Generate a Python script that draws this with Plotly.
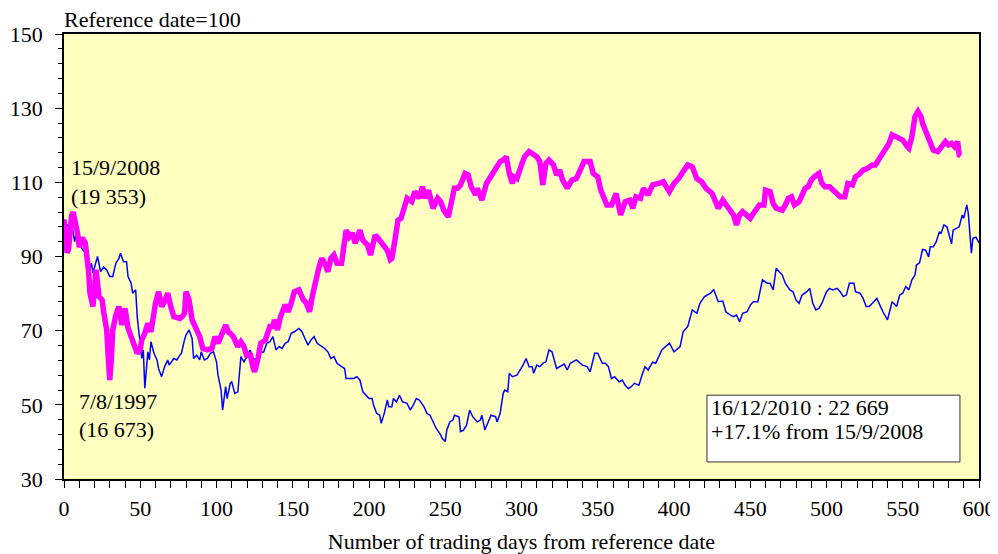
import plotly.graph_objects as go

# Magenta series (from 15/9/2008)
days_2008 = [0, 1, 2, 3, 4, 5, 6, 7, 8, 9, 10, 12, 14, 16, 17, 19, 21, 23, 25, 26, 28, 29, 30, 31, 32, 34, 36, 38, 40,
             42, 44, 46, 48, 50, 51, 53, 55, 57, 59, 60, 62, 64, 66, 67, 68, 70, 72, 74, 76, 78, 79, 80, 82, 84, 86, 87,
             89, 91, 94, 97, 99, 101, 104, 106, 108, 109, 111, 114, 116, 118, 120, 122, 124, 125, 127, 129, 132, 134,
             135, 137, 138, 140, 142, 145, 147, 149, 151, 154, 156, 157, 159, 161, 163, 165, 167, 169, 171, 173, 175,
             177, 179, 182, 183, 184, 185, 187, 189, 191, 194, 196, 199, 201, 204, 206, 209, 212, 214, 215, 217, 219,
             221, 223, 225, 228, 230, 233, 235, 237, 239, 242, 245, 247, 249, 252, 254, 256, 258, 260, 263, 265, 267,
             270, 271, 274, 277, 279, 281, 283, 286, 288, 290, 292, 294, 295, 297, 300, 302, 305, 307, 310, 312, 313,
             314, 316, 318, 321, 323, 325, 327, 330, 333, 336, 338, 341, 345, 347, 350, 352, 356, 359, 362, 365, 368,
             371, 373, 375, 378, 380, 383, 386, 390, 393, 395, 397, 400, 403, 406, 409, 412, 415, 418, 421, 425, 427,
             429, 432, 434, 436, 439, 441, 443, 445, 448, 450, 452, 454, 456, 459, 460, 463, 465, 467, 471, 473, 475,
             477, 479, 482, 484, 486, 488, 490, 492, 495, 497, 499, 502, 506, 509, 512, 514, 517, 519, 521, 524, 527,
             530, 532, 534, 536, 538, 541, 543, 545, 547, 550, 553, 554, 556, 558, 560, 562, 563, 566, 568, 570, 573,
             575, 578, 580, 582, 584, 586, 587, 588]
vals_2008 = [100, 96, 91, 92, 99, 101, 102, 99, 98, 96, 92.5, 95, 93.6, 86.4, 80.2, 76.5, 86.4, 79.2, 78.3, 75.1, 70.2,
             63, 56.7, 62, 70.2, 74.2, 76.5, 71.5, 76, 70.7, 68.4, 65.7, 63.9, 65, 67.5, 69.3, 72, 69.7, 75, 77.4, 80.5,
             76.5, 78, 79.6, 80.1, 76.5, 73.8, 73.5, 73.3, 74, 74.7, 80.5, 78.3, 72.9, 71, 70.2, 68.4, 65.2, 64.8, 65.2,
             68.4, 66.6, 70.2, 71.5, 69.5, 69.3, 68.4, 65.7, 67, 65.7, 63, 63.9, 60, 58.9, 62.1, 66.6, 67.5, 70, 71.1,
             71.1, 72.9, 70.2, 73.8, 77, 75.1, 77.4, 80.5, 81, 79, 78.3, 77.4, 75.1, 79.6, 84.1, 86.8, 89.5, 88.2, 85.9,
             89.5, 90.4, 88.2, 88.2, 92, 94.4, 97.1, 95.3, 96.3, 93.6, 97.1, 94.4, 93.1, 90.4, 95.8, 94.9, 93.1, 91.7,
             89.2, 89.5, 94.4, 99.8, 100.3, 103.4, 105.7, 104.8, 107.5, 105.7, 108.8, 105.7, 107.9, 103, 105.7, 104.8,
             102.5, 100.7, 103.9, 108.4, 108.4, 109.3, 112.4, 112, 108.8, 106.6, 108.4, 105.2, 109.7, 111, 112.4, 113.8,
             115.6, 116, 116.9, 112.4, 109.7, 111.5, 111, 114.7, 116.9, 118.3, 117.8, 116.9, 115.6, 112, 109.3, 115.1,
             116, 114.7, 112, 113.3, 110.6, 108.4, 110.6, 111, 112.9, 115.6, 115.6, 112.4, 111.5, 107.9, 103.9, 103.9,
             107, 101.2, 104.8, 105.2, 103, 106.1, 105.7, 108.4, 106.6, 109.3, 109.7, 110.2, 108.8, 107.5, 109.7, 111,
             112.9, 114.7, 114.2, 111, 110.2, 108.4, 107, 104.8, 103, 105.2, 104, 102.5, 101.2, 98.5, 101.2, 102.1,
             101.2, 100.3, 101.6, 103, 103.9, 103.9, 107.9, 107.5, 104.3, 103, 102.5, 103.9, 105.7, 106.1, 103.9,
             104.8, 107, 108.4, 108.8, 110.6, 111.5, 112.4, 109.7, 108.8, 108.8, 107, 106.1, 106.1, 109.7, 109.3,
             111.5, 112, 113.3, 113.8, 114.7, 114.7, 116, 117.4, 118.5, 120.5, 122.8, 122.3, 121.9, 121.4, 119.6,
             119.2, 122.3, 127.7, 129.1, 127.7, 125.9, 122.8, 121.4, 118.7, 118.3, 119.2, 121, 120.1, 120.5, 119.6,
             121, 117.4, 117.1]

# Blue series (from 7/8/1997)
days_1997 = [0, 1, 3, 5, 7, 8, 10, 12, 14, 16, 18, 19, 21, 22, 24, 26, 28, 30, 32, 34, 36, 37, 39, 41, 42, 44, 45, 47,
             48, 50, 51, 52, 53, 55, 56, 57, 59, 61, 62, 64, 66, 68, 69, 72, 74, 76, 77, 79, 80, 82, 84, 85, 87, 89, 90,
             92, 94, 96, 98, 100, 101, 103, 104, 106, 107, 109, 110, 112, 114, 116, 118, 120, 122, 124, 126, 128, 131,
             133, 135, 137, 139, 141, 143, 145, 147, 149, 151, 154, 156, 158, 160, 162, 164, 166, 168, 171, 173, 175,
             177, 179, 182, 184, 185, 188, 190, 192, 194, 196, 197, 200, 202, 203, 205, 207, 208, 210, 212, 213, 215,
             216, 218, 220, 222, 225, 227, 229, 231, 233, 236, 238, 240, 242, 244, 247, 248, 250, 251, 253, 255, 256,
             259, 260, 262, 264, 266, 268, 271, 273, 274, 276, 278, 280, 283, 284, 286, 288, 289, 291, 292, 294, 297,
             299, 301, 303, 305, 307, 308, 310, 312, 314, 316, 318, 320, 323, 325, 328, 330, 332, 336, 340, 343, 345,
             348, 350, 353, 355, 357, 359, 361, 364, 366, 368, 370, 372, 374, 377, 379, 381, 383, 386, 388, 392, 397,
             400, 404, 406, 409, 412, 415, 417, 420, 424, 426, 429, 432, 434, 437, 439, 441, 443, 445, 448, 450, 452,
             455, 456, 458, 461, 463, 465, 467, 469, 471, 473, 476, 478, 480, 482, 484, 487, 489, 491, 493, 495, 497,
             500, 502, 504, 507, 509, 511, 513, 515, 518, 519, 522, 524, 526, 528, 531, 533, 535, 537, 540, 542, 543,
             546, 548, 550, 552, 554, 556, 558, 559, 561, 563, 565, 567, 568, 570, 572, 574, 575, 577, 579, 580, 582,
             583, 585, 587, 589, 590, 592, 593, 595, 596, 598, 600]
vals_1997 = [100, 99, 98, 99, 94, 96.3, 93.6, 92, 90.9, 85.5, 88.2, 85.5, 88.6, 90, 85.9, 87.2, 86.4, 84.6, 84.6, 88.2,
             89.5, 90.9, 88.6, 88.6, 84.6, 82.8, 80.1, 81, 73.8, 66.6, 62.5, 64.8, 54.5, 64.3, 62.1, 67, 63.9, 62.1,
             59.8, 57.6, 60.3, 62.1, 60.7, 62.5, 62.1, 63.4, 63.9, 67.5, 68.8, 70.2, 67.9, 62.5, 63.4, 62.1, 64.3, 62.1,
             62.5, 63.9, 64.3, 61.6, 58, 54, 48.6, 54.9, 51.7, 55.8, 56.2, 53.1, 53.5, 63, 61.6, 63, 64.8, 62.5, 62.1,
             63.9, 64.3, 66.6, 67, 68.4, 64.8, 65.7, 65.2, 66.6, 67, 69.3, 69.7, 70.6, 69.7, 67.9, 66.1, 67.5, 68.4,
             66.6, 66.1, 65.2, 64.3, 62.5, 63, 61.2, 60.3, 59.8, 57.1, 57.1, 57.1, 57.6, 56.7, 53.5, 53.1, 51.7, 51.7,
             49.9, 47.7, 47.2, 45, 47.7, 51.3, 49.5, 49.5, 51.7, 50.8, 52.6, 50.8, 50.4, 48.6, 49.9, 51.7, 51.3, 49.5,
             47.7, 47.2, 45.4, 43.7, 41.9, 41, 40.1, 43.2, 45.4, 45.9, 47.2, 46.8, 42.8, 43.2, 44.6, 48.6, 46.8, 45.4,
             45.9, 47.2, 43.2, 45.4, 47.2, 46.8, 45.4, 47.7, 53.1, 54, 53.5, 58.5, 57.6, 58, 59.4, 60.7, 62.5, 60.3,
             60.3, 58.5, 60.7, 60.3, 61.2, 61.6, 64.8, 64.3, 59.8, 60.3, 61, 59.4, 61.2, 62.1, 60.7, 60.3, 58.9, 63.9,
             63.9, 61.2, 61.2, 60.3, 57.1, 57.6, 56.2, 56.7, 55.3, 54.4, 54.9, 55.8, 55.3, 58, 60.3, 59.4, 61.5, 61.2,
             64.8, 66.6, 64.3, 65.7, 69.7, 71.1, 75.6, 74.7, 77.4, 79.2, 80.1, 81.1, 77.8, 78, 75.1, 74.2, 73.8, 74.2,
             72.4, 74.7, 75.1, 76.9, 77.8, 77.8, 80.1, 83.7, 82.8, 82.8, 81, 86.8, 85.9, 85, 82.8, 81, 80.5, 78.3, 77.4,
             79.6, 80.5, 81.4, 77.4, 75.6, 76, 77.4, 80.5, 81.4, 81, 81.4, 80.5, 79.2, 79.6, 82.8, 82.8, 80.5, 80.1,
             78.7, 76.5, 76.5, 77.8, 78.7, 76.9, 75.1, 72.9, 76, 77.8, 76.5, 79.6, 80.1, 81.9, 81, 83.7, 85, 87.7, 88.3,
             91.9, 91.7, 89.9, 92.6, 92.6, 94, 96.7, 96.1, 98.5, 98, 96.3, 93.4, 97.1, 97.6, 98, 101.2, 100.3, 103.9,
             101.6, 90.9, 94.9, 95.2, 93.7]

FONT = "Liberation Serif, Times New Roman, serif"
FS = 22

fig = go.Figure()
fig.add_trace(go.Scatter(x=days_1997, y=vals_1997, mode="lines",
                         line=dict(color="#0000FF", width=1.5), showlegend=False, hoverinfo="skip"))
fig.add_trace(go.Scatter(x=days_2008, y=vals_2008, mode="lines",
                         line=dict(color="#FF00FF", width=5.5), showlegend=False, hoverinfo="skip"))

# Info box
fig.add_shape(type="rect", xref="x", yref="y", x0=421.6, x1=587.5, y0=34.6, y1=52.6,
              line=dict(color="#333333", width=1), fillcolor="white", layer="above")


def note(text, x, y, xref="x", yref="y", yanchor="middle"):
    fig.add_annotation(text=text, xref=xref, yref=yref, x=x, y=y, xanchor="left", yanchor=yanchor,
                       showarrow=False, font=dict(family=FONT, size=FS, color="black"))


fig.add_annotation(text="Reference date=100", xref="paper", yref="paper", x=0.0, y=1.0,
                   xanchor="left", yanchor="bottom", xshift=-2, yshift=0, showarrow=False,
                   font=dict(family=FONT, size=FS, color="black"))
note("15/9/2008", 3, 114.0)
note("(19 353)", 3, 106.2)
note("7/8/1997", 8.5, 50.9)
note("(16 673)", 8.5, 43.4)
note("16/12/2010 : 22 669", 423, 49.4)
note("+17.1% from 15/9/2008", 423, 42.7)

# The page body adds an 8px offset; the figure is sized so the plot lands where the reference has it.
fig.update_layout(
    width=990, height=546,
    margin=dict(l=56, r=19, t=26, b=75),
    paper_bgcolor="white",
    plot_bgcolor="#FFFFC0",
    font=dict(family=FONT, size=FS, color="black"),
)
fig.update_xaxes(
    range=[0, 600], tick0=0, dtick=50, ticks="outside", ticklen=7, tickcolor="black",
    showline=True, linecolor="black", linewidth=1.5, mirror=True, showgrid=False, zeroline=False,
    tickfont=dict(family=FONT, size=FS), ticklabelstandoff=2, automargin=False,
    minor=dict(dtick=10, ticks="outside", ticklen=7, tickcolor="black", showgrid=False),
    title=dict(text="Number of trading days from reference date", font=dict(family=FONT, size=FS), standoff=14),
)
fig.update_yaxes(
    range=[30, 150], tick0=30, dtick=20, ticks="outside", ticklen=7, tickcolor="black",
    showline=True, linecolor="black", linewidth=1.5, mirror=True, showgrid=False, zeroline=False,
    tickfont=dict(family=FONT, size=FS), ticklabelstandoff=8, automargin=False,
    minor=dict(dtick=4, tick0=30, ticks="outside", ticklen=4, tickcolor="black", showgrid=False),
)

fig.write_html("out.html")
